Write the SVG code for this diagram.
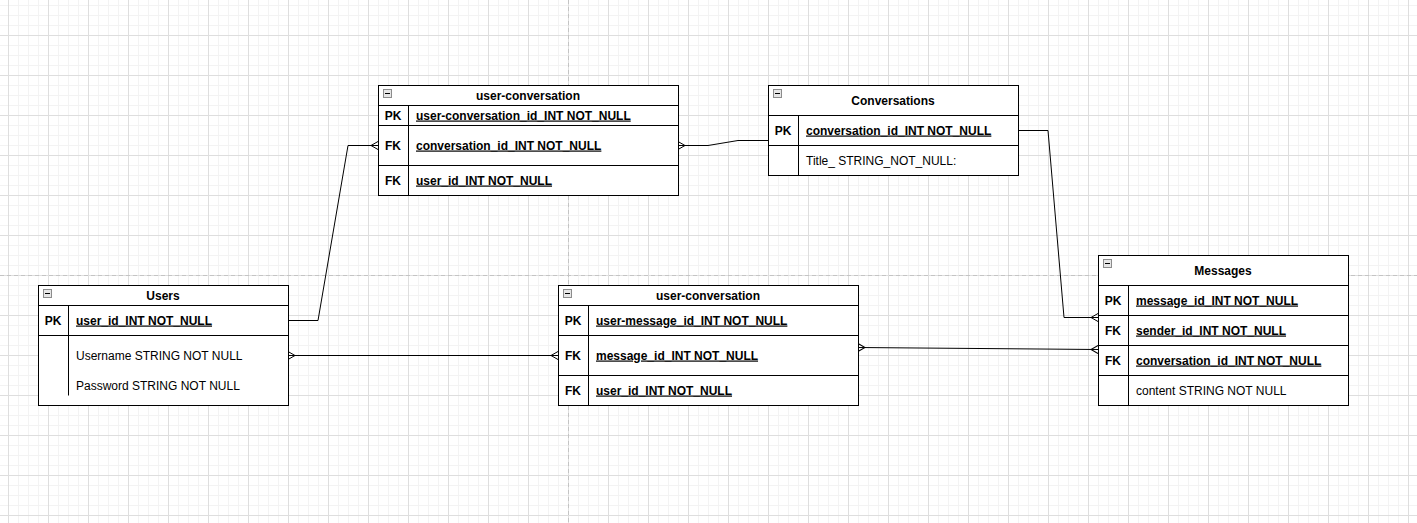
<svg xmlns="http://www.w3.org/2000/svg" width="1417" height="523" viewBox="0 0 1417 523">
<style>
.box{fill:#fff;stroke:#000;stroke-width:1}
.ln{stroke:#000;stroke-width:1;fill:none}
.t{font-family:"Liberation Sans",Arial,sans-serif;font-size:12px;fill:#000}
.title{font-weight:bold;text-anchor:middle}
.key{font-weight:bold;text-anchor:middle}
.pk{font-weight:bold;text-decoration:underline}
.icon{fill:#e6e6e6;stroke:#8c8c8c;stroke-width:1}
.conn{stroke:#000;stroke-width:1;fill:none}
</style>
<defs>
<pattern id="minor" patternUnits="userSpaceOnUse" x="8" y="5" width="10" height="10">
<path d="M0,0.5 H10 M0.5,0 V10" stroke="#f3f3f3" stroke-width="1" fill="none"/>
</pattern>
<pattern id="major" patternUnits="userSpaceOnUse" x="8" y="-5" width="40" height="40">
<path d="M0,0.5 H40 M0.5,0 V40" stroke="#dedede" stroke-width="1" fill="none"/>
</pattern>
<marker id="many" markerUnits="userSpaceOnUse" orient="auto-start-reverse" overflow="visible" refX="0" refY="0" markerWidth="10" markerHeight="10">
<path d="M0,-4 L-7,0 L0,4" fill="none" stroke="#000" stroke-width="1"/>
</marker>
</defs>
<rect width="1417" height="523" fill="#fff"/>
<rect width="1417" height="523" fill="url(#minor)"/>
<rect width="1417" height="523" fill="url(#major)"/>
<path d="M568.5,0 V523 M0,275.5 H1417" stroke="#c4c4c4" stroke-width="1" stroke-dasharray="4,3" fill="none"/>

<g id="connectors">
<path class="conn" d="M288,320.5 L318,320.5 L348,145.5 L378,145.5" marker-end="url(#many)"/>
<path class="conn" d="M678,145.5 L708,145.5 L738,140.5 L768,140.5" marker-start="url(#many)"/>
<path class="conn" d="M1018,130.5 L1048,130.5 L1064,317.5 L1098,317.5" marker-end="url(#many)"/>
<path class="conn" d="M288,355.5 L558,355.5" marker-start="url(#many)" marker-end="url(#many)"/>
<path class="conn" d="M858,347.5 L1098,349.5" marker-start="url(#many)" marker-end="url(#many)"/>
</g>

<g id="user-conversation-top">
<rect class="box" x="378.5" y="85.5" width="300" height="110"/>
<path class="ln" d="M378.5,105.5 H678.5 M378.5,125.5 H678.5 M378.5,165.5 H678.5 M408.5,105.5 V195.5"/>
<rect class="icon" x="383.5" y="89.5" width="8" height="8"/>
<path class="ln" d="M385,93.5 H390" stroke="#444"/>
<text class="t title" x="528" y="99.5">user-conversation</text>
<text class="t key" x="393" y="119.5">PK</text>
<text class="t pk" x="416" y="119.5">user-conversation_id_INT NOT_NULL</text>
<text class="t key" x="393" y="149.5">FK</text>
<text class="t pk" x="416" y="149.5">conversation_id_INT NOT_NULL</text>
<text class="t key" x="393" y="184.5">FK</text>
<text class="t pk" x="416" y="184.5">user_id_INT NOT_NULL</text>
</g>

<g id="conversations">
<rect class="box" x="768.5" y="85.5" width="250" height="90"/>
<path class="ln" d="M768.5,115.5 H1018.5 M768.5,145.5 H1018.5 M798.5,115.5 V175.5"/>
<rect class="icon" x="773.5" y="89.5" width="8" height="8"/>
<path class="ln" d="M775,93.5 H780" stroke="#444"/>
<text class="t title" x="893" y="104.5">Conversations</text>
<text class="t key" x="783" y="134.5">PK</text>
<text class="t pk" x="806" y="134.5">conversation_id_INT NOT_NULL</text>
<text class="t" x="806" y="164.5">Title_ STRING_NOT_NULL:</text>
</g>

<g id="users">
<rect class="box" x="38.5" y="285.5" width="250" height="120"/>
<path class="ln" d="M38.5,305.5 H288.5 M38.5,335.5 H288.5 M68.5,305.5 V395.5"/>
<rect class="icon" x="43.5" y="289.5" width="8" height="8"/>
<path class="ln" d="M45,293.5 H50" stroke="#444"/>
<text class="t title" x="163" y="299.5">Users</text>
<text class="t key" x="53" y="324.5">PK</text>
<text class="t pk" x="76" y="324.5">user_id_INT NOT_NULL</text>
<text class="t" x="76" y="359.5">Username STRING NOT NULL</text>
<text class="t" x="76" y="389.5">Password STRING NOT NULL</text>
</g>

<g id="user-conversation-bottom">
<rect class="box" x="558.5" y="285.5" width="300" height="120"/>
<path class="ln" d="M558.5,305.5 H858.5 M558.5,335.5 H858.5 M558.5,375.5 H858.5 M588.5,305.5 V405.5"/>
<rect class="icon" x="563.5" y="289.5" width="8" height="8"/>
<path class="ln" d="M565,293.5 H570" stroke="#444"/>
<text class="t title" x="708" y="299.5">user-conversation</text>
<text class="t key" x="573" y="324.5">PK</text>
<text class="t pk" x="596" y="324.5">user-message_id_INT NOT_NULL</text>
<text class="t key" x="573" y="359.5">FK</text>
<text class="t pk" x="596" y="359.5">message_id_INT NOT_NULL</text>
<text class="t key" x="573" y="394.5">FK</text>
<text class="t pk" x="596" y="394.5">user_id_INT NOT_NULL</text>
</g>

<g id="messages">
<rect class="box" x="1098.5" y="255.5" width="250" height="150"/>
<path class="ln" d="M1098.5,285.5 H1348.5 M1098.5,315.5 H1348.5 M1098.5,345.5 H1348.5 M1098.5,375.5 H1348.5 M1128.5,285.5 V405.5"/>
<rect class="icon" x="1103.5" y="259.5" width="8" height="8"/>
<path class="ln" d="M1105,263.5 H1110" stroke="#444"/>
<text class="t title" x="1223" y="274.5">Messages</text>
<text class="t key" x="1113" y="304.5">PK</text>
<text class="t pk" x="1136" y="304.5">message_id_INT NOT_NULL</text>
<text class="t key" x="1113" y="334.5">FK</text>
<text class="t pk" x="1136" y="334.5">sender_id_INT NOT_NULL</text>
<text class="t key" x="1113" y="364.5">FK</text>
<text class="t pk" x="1136" y="364.5">conversation_id_INT NOT_NULL</text>
<text class="t" x="1136" y="394.5">content STRING NOT NULL</text>
</g>
</svg>
